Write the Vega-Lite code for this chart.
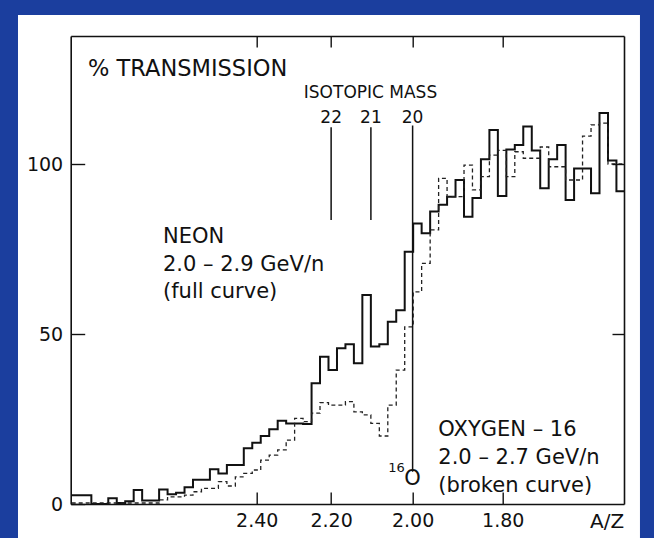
{
  "$schema": "https://vega.github.io/schema/vega-lite/v6.json",
  "width": 553.3,
  "height": 468,
  "autosize": "none",
  "padding": {"left": 70.7, "top": 36, "right": 30, "bottom": 34},
  "background": "#1b3e9e",
  "config": {"view": {"stroke": null}, "font": "DejaVu Sans"},
  "datasets": {
    "ne": [
      {"az": 2.98, "t": 2.6}, {"az": 2.9412, "t": 2.6}, {"az": 2.9122, "t": 0}, {"az": 2.8835, "t": 0},
      {"az": 2.8551, "t": 1.7}, {"az": 2.8269, "t": 0.3}, {"az": 2.7991, "t": 0.8}, {"az": 2.7715, "t": 4.1},
      {"az": 2.7442, "t": 1.0}, {"az": 2.7171, "t": 1.0}, {"az": 2.6903, "t": 4.3}, {"az": 2.6638, "t": 2.9},
      {"az": 2.6375, "t": 3.3}, {"az": 2.6115, "t": 4.9}, {"az": 2.5858, "t": 7.1}, {"az": 2.5603, "t": 7.1},
      {"az": 2.5351, "t": 10.2}, {"az": 2.5101, "t": 9.0}, {"az": 2.4853, "t": 11.5}, {"az": 2.4608, "t": 11.5},
      {"az": 2.4366, "t": 16.4}, {"az": 2.4126, "t": 18}, {"az": 2.3888, "t": 20}, {"az": 2.3652, "t": 22},
      {"az": 2.3419, "t": 24.5}, {"az": 2.3188, "t": 23.7}, {"az": 2.296, "t": 23.7}, {"az": 2.2734, "t": 23.5},
      {"az": 2.2509, "t": 35.5}, {"az": 2.2288, "t": 43.3}, {"az": 2.2068, "t": 39.4}, {"az": 2.185, "t": 45.8},
      {"az": 2.1635, "t": 47}, {"az": 2.1422, "t": 41.4}, {"az": 2.1211, "t": 61.5}, {"az": 2.1001, "t": 46.3},
      {"az": 2.0794, "t": 47}, {"az": 2.0589, "t": 53.6}, {"az": 2.0387, "t": 57}, {"az": 2.0186, "t": 74.2},
      {"az": 1.9987, "t": 82.5}, {"az": 1.979, "t": 79.6}, {"az": 1.9594, "t": 86}, {"az": 1.9401, "t": 88},
      {"az": 1.921, "t": 90.4}, {"az": 1.9021, "t": 95.3}, {"az": 1.8833, "t": 84.5}, {"az": 1.8648, "t": 90},
      {"az": 1.8464, "t": 101.4}, {"az": 1.8282, "t": 110}, {"az": 1.8102, "t": 90.6}, {"az": 1.7923, "t": 104.3},
      {"az": 1.7747, "t": 105.6}, {"az": 1.7572, "t": 111}, {"az": 1.7398, "t": 104}, {"az": 1.7227, "t": 92.9},
      {"az": 1.7057, "t": 101.4}, {"az": 1.6889, "t": 105.6}, {"az": 1.6723, "t": 89.4}, {"az": 1.6558, "t": 98.7},
      {"az": 1.6395, "t": 98.7}, {"az": 1.6233, "t": 91.4}, {"az": 1.6073, "t": 115}, {"az": 1.5914, "t": 101},
      {"az": 1.5758, "t": 92}, {"az": 1.5619, "t": 92}
    ],
    "ox": [
      {"az": 2.98, "t": 0.3}, {"az": 2.9412, "t": 0.3}, {"az": 2.9122, "t": 0.3}, {"az": 2.8835, "t": 0.3},
      {"az": 2.8551, "t": 0.3}, {"az": 2.8269, "t": 0.3}, {"az": 2.7991, "t": 0.3}, {"az": 2.7715, "t": 0.3},
      {"az": 2.7442, "t": 0.3}, {"az": 2.7171, "t": 0.3}, {"az": 2.6903, "t": 1.2}, {"az": 2.6638, "t": 2.1},
      {"az": 2.6375, "t": 2.1}, {"az": 2.6115, "t": 2.6}, {"az": 2.5858, "t": 3.6}, {"az": 2.5603, "t": 4.6},
      {"az": 2.5351, "t": 4.6}, {"az": 2.5101, "t": 6.6}, {"az": 2.4853, "t": 5.3}, {"az": 2.4608, "t": 8},
      {"az": 2.4366, "t": 9}, {"az": 2.4126, "t": 10}, {"az": 2.3888, "t": 12.9}, {"az": 2.3652, "t": 14.4},
      {"az": 2.3419, "t": 15.9}, {"az": 2.3188, "t": 18.8}, {"az": 2.296, "t": 25.2}, {"az": 2.2734, "t": 24.2},
      {"az": 2.2509, "t": 26.7}, {"az": 2.2288, "t": 29.8}, {"az": 2.2068, "t": 29.1}, {"az": 2.185, "t": 29.1},
      {"az": 2.1635, "t": 30.1}, {"az": 2.1422, "t": 27.1}, {"az": 2.1211, "t": 26.2}, {"az": 2.1001, "t": 23.7},
      {"az": 2.0794, "t": 20}, {"az": 2.0589, "t": 29.1}, {"az": 2.0387, "t": 39.4}, {"az": 2.0186, "t": 52.1},
      {"az": 1.9987, "t": 62.4}, {"az": 1.979, "t": 70.8}, {"az": 1.9594, "t": 80.6}, {"az": 1.9401, "t": 95.8},
      {"az": 1.921, "t": 90.4}, {"az": 1.9021, "t": 90.4}, {"az": 1.8833, "t": 99.7}, {"az": 1.8648, "t": 92.4},
      {"az": 1.8464, "t": 96.3}, {"az": 1.8282, "t": 102.6}, {"az": 1.8102, "t": 104}, {"az": 1.7923, "t": 96.3},
      {"az": 1.7747, "t": 103.6}, {"az": 1.7572, "t": 101.7}, {"az": 1.7398, "t": 101.7}, {"az": 1.7227, "t": 105},
      {"az": 1.7057, "t": 99.2}, {"az": 1.6889, "t": 99.2}, {"az": 1.6723, "t": 95.3}, {"az": 1.6558, "t": 95.3},
      {"az": 1.6395, "t": 108.2}, {"az": 1.6233, "t": 111.5}, {"az": 1.6073, "t": 112}, {"az": 1.5914, "t": 100},
      {"az": 1.5758, "t": 100}, {"az": 1.5619, "t": 100}
    ],
    "iso": [
      {"mass": "22", "az": 2.2},
      {"mass": "21", "az": 2.1},
      {"mass": "20", "az": 2.0}
    ]
  },
  "layer": [
    {
      "data": {"values": [{}]},
      "mark": {"type": "rect", "fill": "white", "clip": false},
      "encoding": {
        "x": {"datum": 3.1731, "type": "quantitative", "scale": {"type": "log", "domain": [1.5619, 2.9834], "reverse": true, "nice": false}, "axis": null},
        "x2": {"datum": 1.533},
        "y": {"datum": -10, "type": "quantitative", "scale": {"domain": [0, 137.65], "nice": false, "zero": false}, "axis": null},
        "y2": {"datum": 143.82}
      }
    },
    {
      "data": {"name": "ne"},
      "mark": {"type": "line", "interpolate": "step-after", "stroke": "#111111", "strokeWidth": 2},
      "encoding": {
        "x": {"field": "az", "type": "quantitative", "scale": {"type": "log", "domain": [1.5619, 2.9834], "reverse": true, "nice": false},
          "axis": {"orient": "bottom", "values": [2.4, 2.2, 2.0, 1.8], "format": ".2f", "tickSize": -12, "labelPadding": 19, "labelFontSize": 19, "labelFont": "DejaVu Sans", "labelColor": "#111111", "domainColor": "#111111", "domainWidth": 1.6, "tickColor": "#111111", "tickWidth": 1.4, "grid": false, "labelOverlap": false, "labelFlush": false, "title": "A/Z", "titleFont": "DejaVu Sans", "titleFontSize": 20, "titleFontWeight": "normal", "titleColor": "#111111", "titleAnchor": "end", "titleAlign": "right", "titleBaseline": "top", "titleX": 553, "titleY": 7, "zindex": 2}},
        "y": {"field": "t", "type": "quantitative", "scale": {"domain": [0, 137.65], "nice": false, "zero": false},
          "axis": {"orient": "left", "values": [0, 50, 100], "tickSize": -14, "labelPadding": 22, "labelFontSize": 19, "labelFont": "DejaVu Sans", "labelColor": "#111111", "domainColor": "#111111", "domainWidth": 1.6, "tickColor": "#111111", "tickWidth": 1.4, "grid": false, "title": null, "zindex": 2}},
        "order": {"field": "az", "sort": "descending"}
      }
    },
    {
      "data": {"name": "ox"},
      "mark": {"type": "line", "interpolate": "step-after", "stroke": "#222222", "strokeWidth": 1.3, "strokeDash": [4, 3]},
      "encoding": {
        "x": {"field": "az", "type": "quantitative", "scale": {"type": "log", "domain": [1.5619, 2.9834], "reverse": true, "nice": false},
          "axis": {"orient": "top", "values": [2.4, 2.2, 2.0, 1.8], "labels": false, "tickSize": -11, "domainColor": "#111111", "domainWidth": 1.6, "tickColor": "#111111", "tickWidth": 1.4, "grid": false, "title": null, "zindex": 2}},
        "y": {"field": "t", "type": "quantitative", "scale": {"domain": [0, 137.65], "nice": false, "zero": false},
          "axis": {"orient": "right", "values": [50, 100], "labels": false, "tickSize": -12, "domainColor": "#111111", "domainWidth": 1.6, "tickColor": "#111111", "tickWidth": 1.4, "grid": false, "title": null, "zindex": 2}},
        "order": {"field": "az", "sort": "descending"}
      }
    },
    {
      "data": {"name": "iso"},
      "transform": [{"filter": "datum.mass != '20'"}],
      "mark": {"type": "rule", "stroke": "#111111", "strokeWidth": 1.5},
      "encoding": {
        "x": {"field": "az", "type": "quantitative", "scale": {"type": "log", "domain": [1.5619, 2.9834], "reverse": true, "nice": false}, "axis": null},
        "y": {"datum": 83.5, "type": "quantitative", "scale": {"domain": [0, 137.65], "nice": false, "zero": false}, "axis": null},
        "y2": {"datum": 110.8}
      }
    },
    {
      "data": {"name": "iso"},
      "transform": [{"filter": "datum.mass == '20'"}],
      "mark": {"type": "rule", "stroke": "#111111", "strokeWidth": 1.5},
      "encoding": {
        "x": {"field": "az", "type": "quantitative", "scale": {"type": "log", "domain": [1.5619, 2.9834], "reverse": true, "nice": false}, "axis": null},
        "y": {"datum": 9.5, "type": "quantitative", "scale": {"domain": [0, 137.65], "nice": false, "zero": false}, "axis": null},
        "y2": {"datum": 111.3}
      }
    },
    {
      "data": {"name": "iso"},
      "mark": {"type": "text", "fontSize": 17, "font": "DejaVu Sans", "color": "#111111", "align": "center", "baseline": "middle"},
      "encoding": {
        "x": {"field": "az", "type": "quantitative", "scale": {"type": "log", "domain": [1.5619, 2.9834], "reverse": true, "nice": false}, "axis": null},
        "y": {"datum": 113.6, "type": "quantitative", "scale": {"domain": [0, 137.65], "nice": false, "zero": false}, "axis": null},
        "text": {"field": "mass"}
      }
    },
    {
      "data": {"values": [{}]},
      "mark": {"type": "text", "text": "ISOTOPIC MASS", "fontSize": 17, "font": "DejaVu Sans", "color": "#111111", "align": "center", "baseline": "middle"},
      "encoding": {
        "x": {"datum": 2.101, "type": "quantitative", "scale": {"type": "log", "domain": [1.5619, 2.9834], "reverse": true, "nice": false}, "axis": null},
        "y": {"datum": 120.8, "type": "quantitative", "scale": {"domain": [0, 137.65], "nice": false, "zero": false}, "axis": null}
      }
    },
    {
      "data": {"values": [{}]},
      "mark": {"type": "text", "text": "% TRANSMISSION", "fontSize": 22.5, "font": "DejaVu Sans", "color": "#111111", "align": "left", "baseline": "middle"},
      "encoding": {
        "x": {"datum": 2.9236, "type": "quantitative", "scale": {"type": "log", "domain": [1.5619, 2.9834], "reverse": true, "nice": false}, "axis": null},
        "y": {"datum": 127.8, "type": "quantitative", "scale": {"domain": [0, 137.65], "nice": false, "zero": false}, "axis": null}
      }
    },
    {
      "data": {"values": [{}]},
      "mark": {"type": "text", "text": ["NEON", "2.0 – 2.9 GeV/n", "(full curve)"], "lineHeight": 27.5, "fontSize": 21, "font": "DejaVu Sans", "color": "#111111", "align": "left", "baseline": "middle"},
      "encoding": {
        "x": {"datum": 2.6781, "type": "quantitative", "scale": {"type": "log", "domain": [1.5619, 2.9834], "reverse": true, "nice": false}, "axis": null},
        "y": {"datum": 78.5, "type": "quantitative", "scale": {"domain": [0, 137.65], "nice": false, "zero": false}, "axis": null}
      }
    },
    {
      "data": {"values": [{}]},
      "mark": {"type": "text", "text": ["OXYGEN – 16", "2.0 – 2.7 GeV/n", "(broken curve)"], "lineHeight": 28, "fontSize": 21, "font": "DejaVu Sans", "color": "#111111", "align": "left", "baseline": "middle"},
      "encoding": {
        "x": {"datum": 1.9408, "type": "quantitative", "scale": {"type": "log", "domain": [1.5619, 2.9834], "reverse": true, "nice": false}, "axis": null},
        "y": {"datum": 21.8, "type": "quantitative", "scale": {"domain": [0, 137.65], "nice": false, "zero": false}, "axis": null}
      }
    },
    {
      "data": {"values": [{}]},
      "mark": {"type": "text", "text": "O", "fontSize": 21, "font": "DejaVu Sans", "color": "#111111", "align": "center", "baseline": "middle"},
      "encoding": {
        "x": {"datum": 2.0, "type": "quantitative", "scale": {"type": "log", "domain": [1.5619, 2.9834], "reverse": true, "nice": false}, "axis": null},
        "y": {"datum": 7.4, "type": "quantitative", "scale": {"domain": [0, 137.65], "nice": false, "zero": false}, "axis": null}
      }
    },
    {
      "data": {"values": [{}]},
      "mark": {"type": "text", "text": "16", "fontSize": 13, "font": "DejaVu Sans", "color": "#111111", "align": "center", "baseline": "middle"},
      "encoding": {
        "x": {"datum": 2.038, "type": "quantitative", "scale": {"type": "log", "domain": [1.5619, 2.9834], "reverse": true, "nice": false}, "axis": null},
        "y": {"datum": 10.6, "type": "quantitative", "scale": {"domain": [0, 137.65], "nice": false, "zero": false}, "axis": null}
      }
    }
  ],
  "resolve": {"axis": {"x": "independent", "y": "independent"}}
}
